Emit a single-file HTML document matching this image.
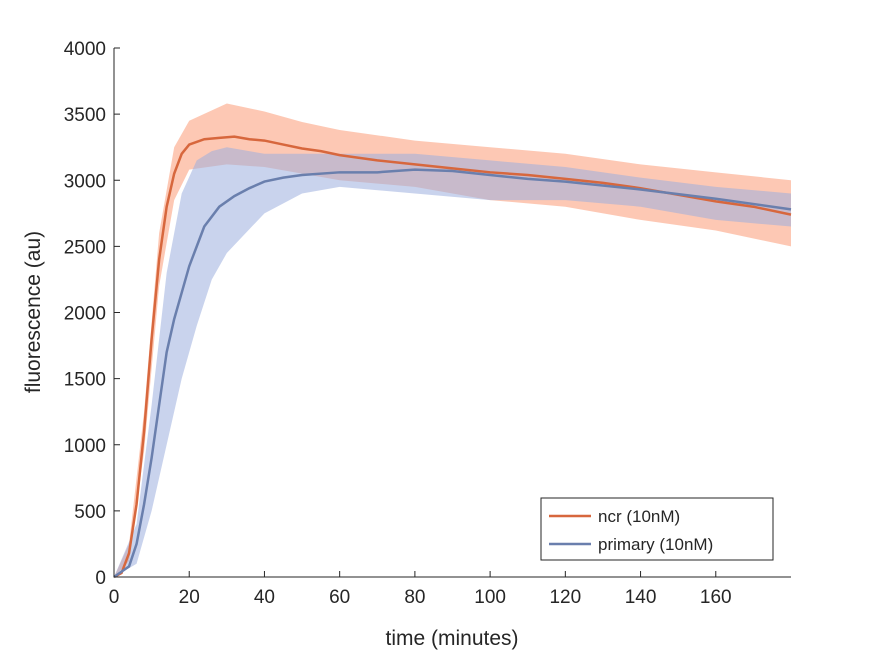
<!DOCTYPE html>
<html><head><meta charset="utf-8"><style>
body{margin:0;background:#fff;}
svg text{font-family:"Liberation Sans",sans-serif;fill:#262626;}
</style></head><body>
<svg id="chart" width="875" height="656">
<g id="plot"></g>
</svg>
<script>
const ncrT=[0,2,4,6,8,10,12,14,16,18,20,24,28,32,36,40,45,50,55,60,70,80,90,100,110,120,130,140,150,160,170,180];
const ncrMean=[0,30,180,550,1100,1800,2400,2800,3050,3200,3270,3310,3320,3330,3310,3300,3270,3240,3220,3190,3150,3120,3090,3060,3040,3010,2980,2940,2890,2840,2800,2740];
const ncrBandT=[0,4,8,12,16,20,30,40,50,60,80,100,120,140,160,180];
const ncrUpper=[0,250,1250,2600,3250,3450,3580,3520,3440,3380,3300,3250,3200,3120,3060,3000];
const ncrLower=[0,120,950,2200,2850,3080,3120,3100,3050,3000,2950,2850,2800,2700,2620,2500];
const priT=[0,4,6,8,10,12,14,16,18,20,22,24,28,32,36,40,45,50,60,70,80,90,100,110,120,140,160,180];
const priMean=[0,80,250,550,900,1300,1700,1950,2150,2350,2500,2650,2800,2880,2940,2990,3020,3040,3060,3060,3080,3070,3040,3010,2990,2930,2860,2780];
const priBandT=[0,6,10,14,18,22,26,30,40,50,60,80,100,120,140,160,180];
const priUpper=[0,400,1300,2300,2900,3150,3220,3250,3200,3200,3200,3200,3150,3100,3020,2950,2900];
const priLower=[0,100,500,1000,1500,1900,2250,2450,2750,2900,2950,2900,2850,2850,2800,2700,2650];
const xTicks=[0,20,40,60,80,100,120,140,160];
const yTicks=[0,500,1000,1500,2000,2500,3000,3500,4000];

const X0=114,X1=791,Y0=577,Y1=48;
const sx=v=>X0+(v/180)*(X1-X0);
const sy=v=>Y0-(v/4000)*(Y0-Y1);
const NS="http://www.w3.org/2000/svg";
const g=document.getElementById('plot');
function mk(tag,attrs){const e=document.createElementNS(NS,tag);for(const k in attrs)e.setAttribute(k,attrs[k]);g.appendChild(e);return e;}
function band(tt,up,lo,fill,name){
  let d='M'+tt.map((t,i)=>sx(t)+','+sy(up[i])).join('L');
  for(let i=tt.length-1;i>=0;i--)d+='L'+sx(tt[i])+','+sy(lo[i]);
  const p=mk('path',{d:d+'Z',fill:fill,'fill-opacity':0.55,stroke:'none'});
  
  
}
function line(tt,vv,col,name){
  const p=mk('path',{d:'M'+tt.map((t,i)=>sx(t)+','+sy(vv[i])).join('L'),fill:'none',stroke:col,'stroke-width':2.5});
  
  
}
band(ncrBandT,ncrUpper,ncrLower,'#fb9a76','ncr-band');
band(priBandT,priUpper,priLower,'#9dafde','primary-band');
line(ncrT,ncrMean,'#d7673d','ncr-line');
line(priT,priMean,'#6a7fad','primary-line');
const ax=mk('path',{d:`M${X0},${Y1}L${X0},${Y0}L${X1},${Y0}`,fill:'none',stroke:'#262626','stroke-width':1});


xTicks.forEach(v=>{
  mk('line',{x1:sx(v),x2:sx(v),y1:Y0,y2:Y0-6,stroke:'#262626'});
  const t=mk('text',{x:sx(v),y:Y0+26,'text-anchor':'middle','font-size':19});
  t.textContent=v;
  
  
});
yTicks.forEach(v=>{
  mk('line',{x1:X0,x2:X0+6,y1:sy(v),y2:sy(v),stroke:'#262626'});
  const t=mk('text',{x:X0-8,y:sy(v)+7,'text-anchor':'end','font-size':19});
  t.textContent=v;
  
  
});
const xt=mk('text',{x:452,y:645,'text-anchor':'middle','font-size':21});
xt.textContent='time (minutes)';


const yt=mk('text',{x:0,y:0,'text-anchor':'middle','font-size':21,transform:'translate(40,312) rotate(-90)'});
yt.textContent='fluorescence (au)';


const lg=mk('rect',{x:541,y:498,width:232,height:62,fill:'#fff',stroke:'#262626','stroke-width':1});


[['ncr (10nM)','#d7673d',516],['primary (10nM)','#6a7fad',544]].forEach(([lab,c,y])=>{
  mk('line',{x1:549,x2:591,y1:y,y2:y,stroke:c,'stroke-width':2.5});
  const t=mk('text',{x:598,y:y+6,'font-size':17});
  t.textContent=lab;
  
  
});
</script>
</body></html>
